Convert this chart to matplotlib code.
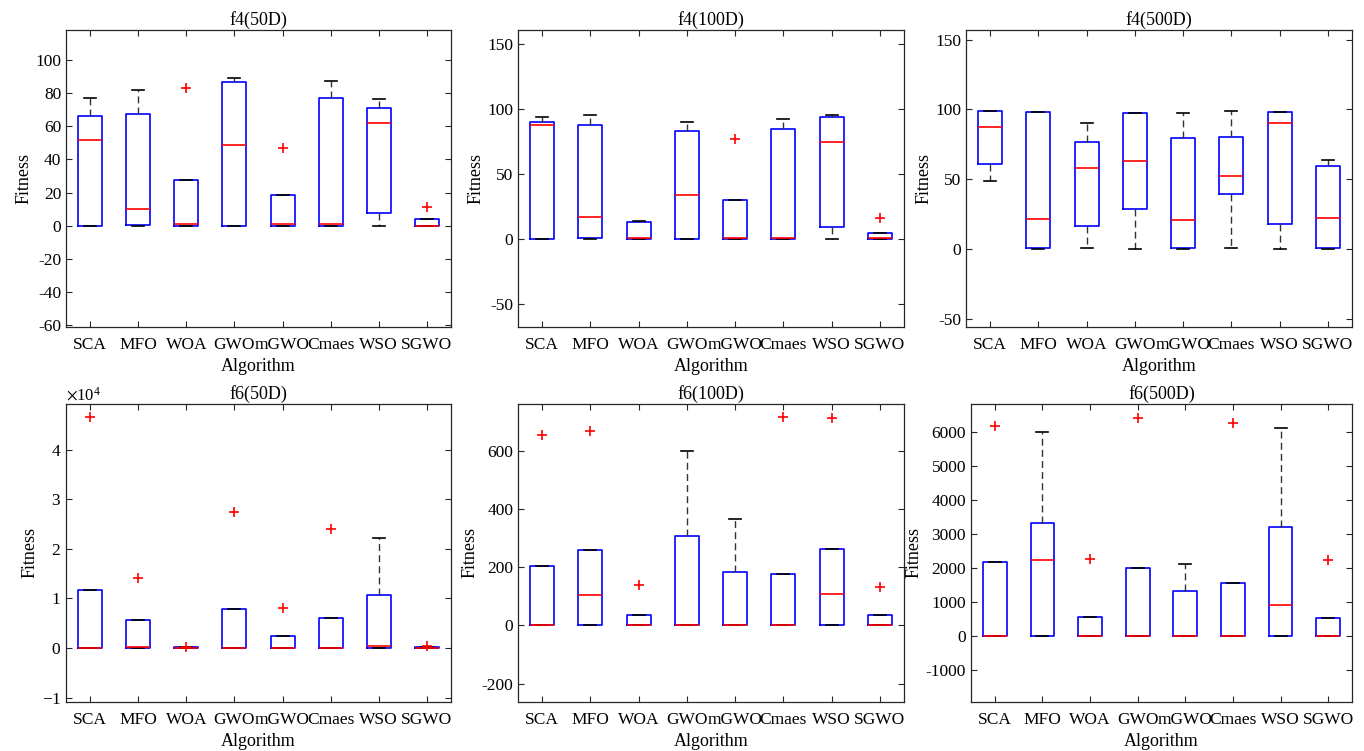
import matplotlib
matplotlib.use("Agg")
import matplotlib.pyplot as plt
from matplotlib.ticker import ScalarFormatter

plt.rcParams["font.family"] = ["Liberation Serif", "DejaVu Serif"]
plt.rcParams["mathtext.fontset"] = "stix"
plt.rcParams["axes.unicode_minus"] = False

algorithms = ["SCA", "MFO", "WOA", "GWO", "mGWO", "Cmaes", "WSO", "SGWO"]

# f4 (50D)
f4_50_lo = [0, 0, 0, 0, 0, 0, 0, 0]
f4_50_q1 = [0, 0.6, 0, 0, 0, 0, 7.8, 0]
f4_50_med = [51.9, 10.2, 1, 48.9, 1, 1, 61.7, 0]
f4_50_q3 = [66.3, 67.3, 27.5, 86.8, 18.4, 76.8, 71, 3.8]
f4_50_hi = [77.2, 81.6, 27.5, 88.8, 18.4, 87.2, 76.5, 3.8]
f4_50_out = [[], [], [83], [], [46.7], [], [], [11.6]]

# f4 (100D)
f4_100_lo = [0, 0, 0, 0, 0, 0, 0, 0]
f4_100_q1 = [0, 0.5, 0, 0, 0, 0, 9, 0]
f4_100_med = [87.4, 16.7, 1, 33.7, 1, 1, 74.8, 0.3]
f4_100_q3 = [90, 87.4, 12.9, 83.5, 29.8, 84.3, 93.6, 4.6]
f4_100_hi = [93.6, 95.4, 13.5, 90, 29.8, 92.5, 95.4, 4.6]
f4_100_out = [[], [], [], [], [76.6], [], [], [15.9]]

# f4 (500D)
f4_500_lo = [48.4, 0, 1, 0, 0, 1, 0, 0]
f4_500_q1 = [60.6, 0.5, 16.7, 28.4, 0.5, 39.4, 17.7, 0.5]
f4_500_med = [87.6, 21.5, 58, 62.8, 20.5, 52.5, 90.5, 22.4]
f4_500_q3 = [98.6, 98.1, 76.6, 97.4, 79.5, 80, 97.9, 59.7]
f4_500_hi = [98.6, 98.1, 90.2, 97.4, 97.4, 99, 97.9, 63.7]
f4_500_out = [[], [], [], [], [], [], [], []]

# f6 (50D)
f6_50_lo = [0, 0, 0, 0, 0, 0, 0, 0]
f6_50_q1 = [0, 0, 0, 0, 0, 0, 0, 0]
f6_50_med = [0, 200, 50, 0, 0, 0, 300, 0]
f6_50_q3 = [11600, 5600, 150, 7900, 2400, 6000, 10700, 150]
f6_50_hi = [11600, 5600, 150, 7900, 2400, 6000, 22200, 150]
f6_50_out = [[46500], [14200], [200], [27400], [8000], [23900], [], [400]]

# f6 (100D)
f6_100_lo = [0, 0, 0, 0, 0, 0, 0, 0]
f6_100_q1 = [0, 0, 0, 0, 0, 0, 0, 0]
f6_100_med = [0, 105, 0, 0, 0, 0, 107, 0]
f6_100_q3 = [205, 258, 35, 306, 182, 178, 263, 34]
f6_100_hi = [205, 258, 35, 597, 365, 178, 263, 34]
f6_100_out = [[653], [667], [138], [], [], [714], [712], [133]]

# f6 (500D)
f6_500_lo = [0, 0, 0, 0, 0, 0, 0, 0]
f6_500_q1 = [0, 0, 0, 0, 0, 0, 0, 0]
f6_500_med = [0, 2232, 0, 20, 0, 0, 910, 0]
f6_500_q3 = [2192, 3318, 568, 1997, 1331, 1566, 3200, 548]
f6_500_hi = [2192, 6000, 568, 1997, 2124, 1566, 6117, 548]
f6_500_out = [[6196], [], [2280], [6430], [], [6264], [], [2232]]

panels = [
    ("f4(50D)", f4_50_lo, f4_50_q1, f4_50_med, f4_50_q3, f4_50_hi, f4_50_out,
     (-61, 118), range(-60, 101, 20), [66, 30, 451, 327]),
    ("f4(100D)", f4_100_lo, f4_100_q1, f4_100_med, f4_100_q3, f4_100_hi, f4_100_out,
     (-68, 161), range(-50, 151, 50), [518, 30, 904, 327]),
    ("f4(500D)", f4_500_lo, f4_500_q1, f4_500_med, f4_500_q3, f4_500_hi, f4_500_out,
     (-56, 157), range(-50, 151, 50), [966, 30, 1352, 327]),
    ("f6(50D)", f6_50_lo, f6_50_q1, f6_50_med, f6_50_q3, f6_50_hi, f6_50_out,
     (-10900, 49200), range(-10000, 40001, 10000), [66, 404, 451, 702]),
    ("f6(100D)", f6_100_lo, f6_100_q1, f6_100_med, f6_100_q3, f6_100_hi, f6_100_out,
     (-263, 760), range(-200, 601, 200), [518, 404, 904, 702]),
    ("f6(500D)", f6_500_lo, f6_500_q1, f6_500_med, f6_500_q3, f6_500_hi, f6_500_out,
     (-1930, 6830), range(-1000, 6001, 1000), [971, 404, 1352, 702]),
]

W, H = 1364, 751
fig = plt.figure(figsize=(W / 100, H / 100), dpi=100)
frame = "#262626"

for title, lo, q1, med, q3, hi, out, ylim, yticks, box in panels:
    x0, y0, x1, y1 = box
    ax = fig.add_axes([x0 / W, 1 - y1 / H, (x1 - x0) / W, (y1 - y0) / H])

    stats = [
        {"whislo": lo[i], "q1": q1[i], "med": med[i], "q3": q3[i],
         "whishi": hi[i], "fliers": out[i]}
        for i in range(len(algorithms))
    ]
    ax.bxp(stats, positions=range(1, 9), widths=0.5, capwidths=0.25,
           boxprops=dict(color="#0000ff", linewidth=1.2),
           whiskerprops=dict(color="#333333", linestyle=(0, (5, 3)), linewidth=1),
           capprops=dict(color="black", linewidth=1.2),
           medianprops=dict(color="#ff0000", linewidth=1.2),
           flierprops=dict(marker="+", markeredgecolor="#ff0000", markersize=7,
                           markeredgewidth=1.2, linestyle="none"))

    ax.set_xlim(0.5, 8.5)
    ax.set_ylim(*ylim)
    ax.set_yticks(list(yticks))
    ax.set_xticks(range(1, 9))
    ax.set_xticklabels(algorithms)
    if title == "f6(50D)":
        fmt = ScalarFormatter(useMathText=True)
        fmt.set_powerlimits((0, 0))
        ax.yaxis.set_major_formatter(fmt)
        ax.yaxis.get_offset_text().set_fontsize(12)

    ax.tick_params(direction="in", top=True, right=True, length=4,
                   labelsize=12.5, colors=frame, labelcolor="black")
    ax.tick_params(axis="x", pad=7)
    for s in ax.spines.values():
        s.set_color(frame)
        s.set_linewidth(0.9)

    ax.set_title(title, fontsize=13, pad=4)
    ax.set_xlabel("Algorithm", fontsize=13, labelpad=4)
    ax.set_ylabel("Fitness", fontsize=13, labelpad=2)

fig.savefig("out.png", dpi=100)
